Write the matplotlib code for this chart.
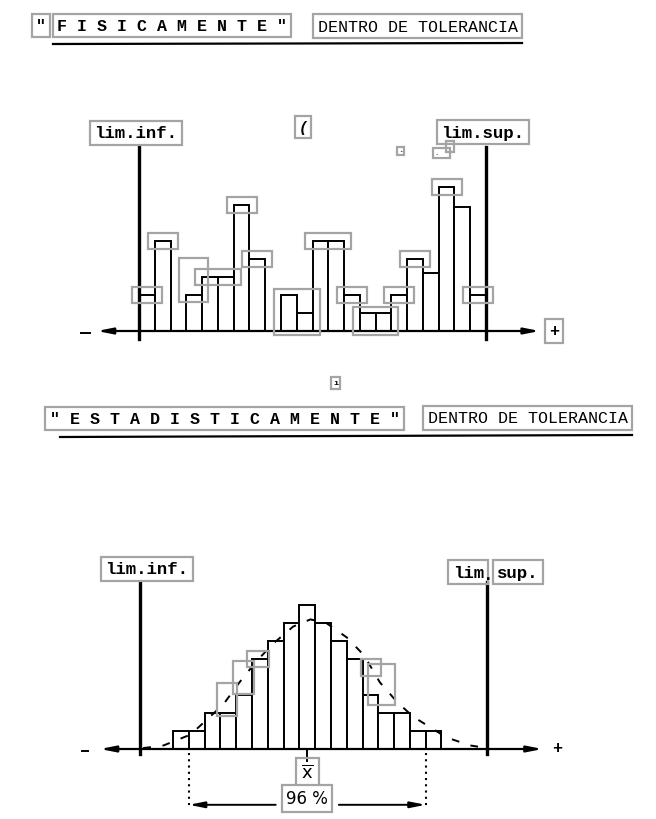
import numpy as np
import matplotlib
matplotlib.use("Agg")
import matplotlib.pyplot as plt
from matplotlib.patches import Rectangle

# ---- data (bar heights in grid units) ----
top_counts = [2, 5, 0, 2, 3, 3, 7, 4, 0, 2, 1, 5, 5, 2, 1, 1, 2, 4, 3.2, 8, 6.9, 2]
bottom_counts = [1, 1, 2, 2, 3, 5, 6, 7, 8, 7, 6, 5, 3, 2, 2, 1, 1]
bottom_start = 2.1          # first bin of the lower histogram
lim_inf, lim_sup = 0, 22    # tolerance limits (bin units)

# dashed "normal" curve drawn over the lower histogram
curve_x = [0.2, 1.5, 3.2, 4.2, 5.3, 6.3, 7.4, 8.5, 9.7, 10.8, 11.8, 13.1, 14.2,
           15.2, 16.3, 17.3, 18.4, 19.4, 20.9, 22.0]
curve_y = [0.05, 0.2, 0.8, 1.6, 2.5, 3.7, 4.9, 5.9, 6.8, 7.2, 7.0, 6.2, 5.2,
           3.7, 2.6, 1.8, 1.2, 0.65, 0.2, 0.05]

# grey OCR frames on the upper chart: (first bin, last bin, kind)
top_frames = [(0, 0, "top"), (1, 1, "top"), (3, 3, "tall"), (4, 5, "top"),
              (6, 6, "top"), (7, 7, "top"), (9, 10, "full"), (11, 12, "top"),
              (13, 13, "top"), (14, 15, "full"), (16, 16, "top"),
              (17, 17, "top"), (19, 19, "top"), (21, 21, "top")]
# grey frames on the lower chart, placed along the dashed curve
curve_frames_x = [5.5, 6.55, 7.5, 14.65, 15.3]
curve_frames_wh = [(1.3, 1.8), (1.3, 1.8), (1.4, 0.9), (1.3, 0.9), (1.7, 2.3)]

W, H = 656, 820
GREY = "#a4a4a4"
MONO = "Liberation Mono"

fig = plt.figure(figsize=(W / 100, H / 100), dpi=100)
fig.patch.set_facecolor("white")


def band_axes(row_top, row_bot, x0_px, sx, base_px, sy=18.0):
    ax = fig.add_axes([0, 1 - row_bot / H, 1, (row_bot - row_top) / H])
    ax.set_xlim(-x0_px / sx, (W - x0_px) / sx)
    ax.set_ylim((base_px - row_bot) / sy, (base_px - row_top) / sy)
    ax.axis("off")
    ax.patch.set_alpha(0)
    return ax


def boxed(ax, x, y, s, size=12.5, **kw):
    kw.setdefault("family", MONO)
    kw.setdefault("weight", "bold")
    ax.text(x, y, s, fontsize=size, ha="center", va="center",
            bbox=dict(boxstyle="square,pad=0.25", fc="none", ec=GREY, lw=1.6), **kw)


def ftext(x, y, s, size=12, box=True, **kw):
    bb = dict(boxstyle="square,pad=0.25", fc="none", ec=GREY, lw=1.6) if box else None
    kw.setdefault("weight", "bold")
    fig.text(x / W, 1 - y / H, s, fontsize=size, ha="center", va="center",
             family=MONO, bbox=bb, **kw)


def axis_line(ax, xl, xr, dash):
    ax.annotate("", xy=(xr, 0), xytext=(xl, 0),
                arrowprops=dict(arrowstyle="<|-|>,head_length=0.9,head_width=0.18",
                                lw=1.6, color="black", shrinkA=0, shrinkB=0))
    ax.plot(dash, [-0.12, -0.12], color="black", lw=1.4)


# ---- titles ----
ftext(41, 26.5, '"')
ftext(172, 26.5, 'F I S I C A M E N T E "')
ftext(417.5, 27, "DENTRO DE TOLERANCIA", weight="normal")
fig.add_artist(plt.Line2D([53 / W, 522 / W], [1 - 45 / H, 1 - 44 / H], color="black", lw=1.6))

ftext(224.5, 419.5, '" E S T A D I S T I C A M E N T E "')
ftext(527.5, 419, "DENTRO DE TOLERANCIA", weight="normal")
fig.add_artist(plt.Line2D([60 / W, 632 / W], [1 - 438 / H, 1 - 436 / H], color="black", lw=1.6))

# stray marks framed by the scan
ftext(303, 128, "(", size=11, style="italic")
ftext(335.5, 384, "ı", size=6)
ftext(400.5, 152, "-", size=4)
ftext(441.5, 154, ". ·", size=5)
ftext(450, 147.5, " ", size=5)

# ---- upper histogram ----
ax1 = band_axes(100, 360, 139, 347 / 22, 332)
xc = np.arange(len(top_counts)) + 0.5
ax1.bar(xc, top_counts, width=1, color="white", edgecolor="black", lw=1.4, zorder=2)
for xl in (lim_inf, lim_sup):
    ax1.plot([xl, xl], [-0.45, 10.2], color="black", lw=2.4, zorder=3)
axis_line(ax1, -2.66, 25.4, [-3.7, -3.1])
boxed(ax1, -0.19, 11.0, "lim.inf.")
boxed(ax1, 21.8, 11.05, "lim.sup.")
boxed(ax1, 26.3, 0.0, "+", size=12)

for a, b, kind in top_frames:
    top = max(top_counts[a:b + 1])
    x0, x1 = a - 0.45, b + 1.45
    if kind == "top":
        y0, y1 = top - 0.42, top + 0.42
    elif kind == "full":
        y0, y1 = -0.2, top + 0.35
    else:
        x1 = b + 1.4
        y0, y1 = top - 0.4, top + 2.07
    ax1.add_patch(Rectangle((x0, y0), x1 - x0, y1 - y0, fill=False,
                            ec=GREY, lw=1.6, zorder=4))

# ---- lower histogram ----
ax2 = band_axes(540, 820, 140, 348 / 22.05, 750)
xb = bottom_start + np.arange(len(bottom_counts)) + 0.5
ax2.bar(xb, bottom_counts, width=1, color="white", edgecolor="black", lw=1.4, zorder=2)
ax2.plot(curve_x, curve_y, color="black", lw=1.4, dashes=(4, 6), zorder=3)
for xl in (lim_inf, lim_sup):
    ax2.plot([xl, xl], [-0.28, 9.3], color="black", lw=2.4, zorder=3)
axis_line(ax2, -2.53, 25.5, [-3.65, -3.3])
ax2.text(26.4, 0.1, "+", fontsize=12, ha="center", va="center", family=MONO, weight="bold")
boxed(ax2, 0.44, 10.0, "lim.inf.")
boxed(ax2, 20.8, 9.83, "lim")
ax2.text(22.05, 9.7, ".", fontsize=12.5, ha="center", va="center", family=MONO, weight="bold")
boxed(ax2, 23.95, 9.83, "sup.")

for cx, (w, h) in zip(curve_frames_x, curve_frames_wh):
    cy = np.interp(cx, curve_x, curve_y)
    ax2.add_patch(Rectangle((cx - w / 2, cy - h / 2), w, h, fill=False,
                            ec=GREY, lw=1.6, zorder=4))

# mean and 96 % band
mean_x = bottom_start + int(np.argmax(bottom_counts)) + 0.5
half = 7.5
ax2.plot([mean_x, mean_x], [0, -0.65], color="black", lw=1.4)
ax2.text(mean_x, -1.28, r"$\overline{\mathrm{x}}$", fontsize=13, ha="center", va="center",
         bbox=dict(boxstyle="square,pad=0.3", fc="none", ec=GREY, lw=1.6))
for xd in (mean_x - half, mean_x + half):
    ax2.plot([xd, xd], [-0.22, -3.15], color="black", lw=1.5, ls=(0, (1, 2)))
for sgn in (-1, 1):
    ax2.annotate("", xy=(mean_x + sgn * half, -3.1), xytext=(mean_x + sgn * 2.0, -3.1),
                 arrowprops=dict(arrowstyle="-|>,head_length=0.9,head_width=0.18",
                                 lw=1.4, color="black", shrinkA=0, shrinkB=0))
ax2.text(mean_x, -2.75, "96 %", fontsize=12, ha="center", va="center", family="DejaVu Sans",
         bbox=dict(boxstyle="square,pad=0.25", fc="white", ec=GREY, lw=1.6))

fig.savefig("out.png", dpi=100)
